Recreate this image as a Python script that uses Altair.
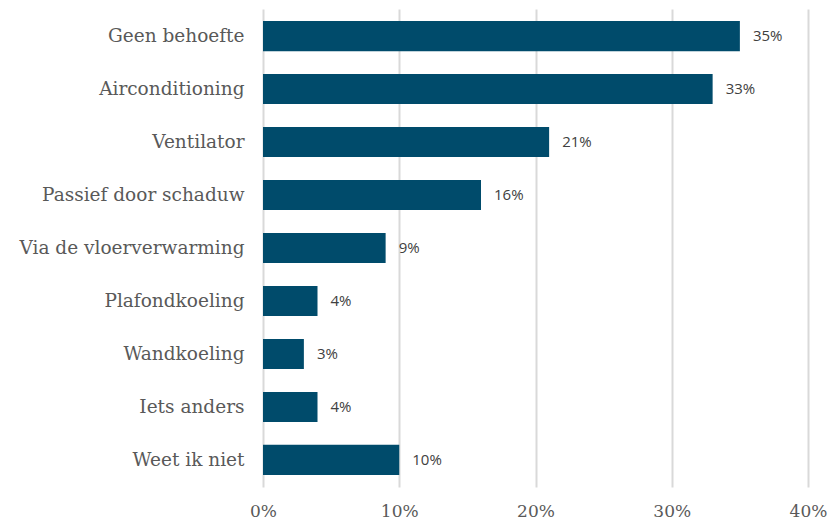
import altair as alt
import pandas as pd

categories = ["Geen behoefte", "Airconditioning", "Ventilator", "Passief door schaduw",
              "Via de vloerverwarming", "Plafondkoeling", "Wandkoeling", "Iets anders", "Weet ik niet"]
values = [35, 33, 21, 16, 9, 4, 3, 4, 10]
labels = [f"{v}%" for v in values]

df = pd.DataFrame({"cat": categories, "val": [v / 100 for v in values], "label": labels})

y = alt.Y("cat:N", sort=categories, title=None,
          scale=alt.Scale(paddingInner=0.43, paddingOuter=0.225),
          axis=alt.Axis(domain=False, ticks=False, labelFont="DejaVu Serif", labelFontSize=18.5,
                        labelColor="#595959", labelPadding=19, grid=False, labelLimit=400))
x = alt.X("val:Q", title=None,
          scale=alt.Scale(domain=[0, 0.4], nice=False),
          axis=alt.Axis(values=[0, 0.1, 0.2, 0.3, 0.4], format=".0%", domain=False, ticks=False,
                        grid=True, gridColor="#d9d9d9", gridWidth=2, labelFlush=False,
                        labelFont="DejaVu Serif", labelFontSize=17, labelColor="#595959",
                        labelPadding=16))

bars = alt.Chart(df).mark_bar(color="#004b6b").encode(x=x, y=y)
text = alt.Chart(df).mark_text(align="left", baseline="middle", dx=13, font="Open Sans",
                               fontSize=15, color="#404040").encode(
    x=alt.X("val:Q"), y=alt.Y("cat:N", sort=categories), text="label:N")

chart = alt.layer(bars, text).properties(
    width=545, height=478,
    autosize=alt.AutoSizeParams(type="none"),
    padding={"left": 255, "top": 1, "right": 24, "bottom": 32},
).configure_view(stroke=None)

chart.save("out.html", embed_options={"renderer": "svg", "actions": False})
